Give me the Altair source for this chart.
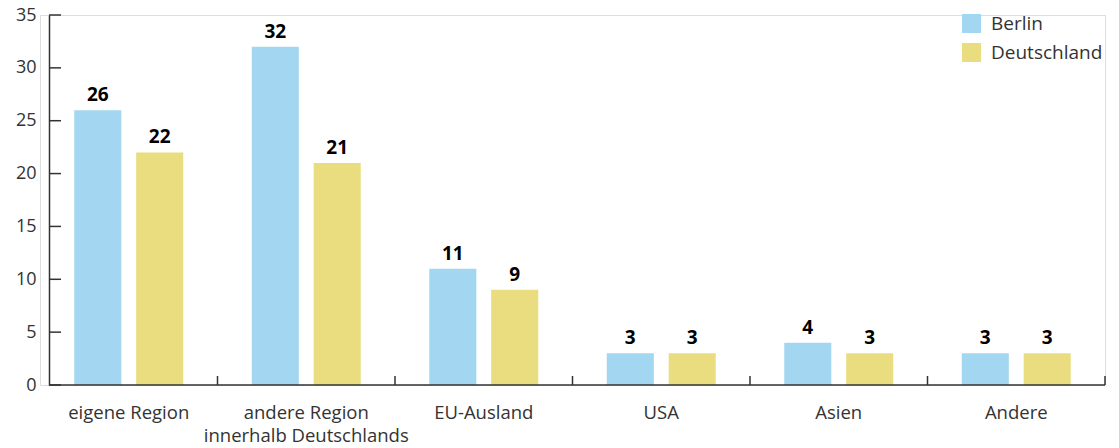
import altair as alt
import pandas as pd

categories = ["eigene Region", "andere Region innerhalb Deutschlands", "EU-Ausland", "USA", "Asien", "Andere"]
berlin = [26, 32, 11, 3, 4, 3]
deutschland = [22, 21, 9, 3, 3, 3]
series = ["Berlin", "Deutschland"]
y_ticks = [0, 5, 10, 15, 20, 25, 30, 35]
boundaries = [1, 2, 3, 4, 5, 6]

rows = []
for c, b, d in zip(categories, berlin, deutschland):
    rows.append({"Kategorie": c, "Serie": "Berlin", "Wert": b})
    rows.append({"Kategorie": c, "Serie": "Deutschland", "Wert": d})
df = pd.DataFrame(rows)

FONT = "Open Sans"
AXC = "#333333"
TXT = "#333333"

x_enc = alt.X("Kategorie:N", sort=categories,
              scale=alt.Scale(paddingInner=0.386, paddingOuter=0.193),
              axis=alt.Axis(title=None, domain=False, ticks=False, labelAngle=0,
                            labelFontSize=18.5, labelColor=TXT, labelFont=FONT,
                            labelPadding=18, labelLineHeight=23, labelLimit=0,
                            labelExpr="datum.value == 'andere Region innerhalb Deutschlands' ? ['andere Region', 'innerhalb Deutschlands'] : datum.value"))
y_enc = alt.Y("Wert:Q", scale=alt.Scale(domain=[0, 35], nice=False),
              axis=alt.Axis(title=None, values=y_ticks, grid=False, ticks=False,
                            domain=True, domainColor=AXC, domainWidth=1.5, offset=-9,
                            labelFontSize=18, labelColor=TXT, labelFont=FONT,
                            labelPadding=13))
xo = alt.XOffset("Serie:N", sort=series, scale=alt.Scale(paddingInner=0.24, paddingOuter=0))
color = alt.Color("Serie:N", sort=series,
                  scale=alt.Scale(domain=series, range=["#a3d6f0", "#e9dd80"]),
                  legend=alt.Legend(title=None, orient="none", legendX=922, legendY=-1,
                                    symbolType="square", symbolSize=361, symbolStrokeWidth=0,
                                    labelFontSize=19, labelFont=FONT, labelColor=TXT,
                                    rowPadding=9, labelOffset=10, padding=0, labelLimit=0))

base = alt.Chart(df)
bars = base.mark_bar().encode(x=x_enc, xOffset=xo, y=y_enc, color=color)
labels = base.mark_text(dy=-5, baseline="bottom", fontWeight="bold", fontSize=19,
                        font=FONT, color="black").encode(
    x=alt.X("Kategorie:N", sort=categories), xOffset=alt.XOffset("Serie:N", sort=series),
    y="Wert:Q", text="Wert:Q")

ytick_df = pd.DataFrame({"t": y_ticks})
yticks = alt.Chart(ytick_df).mark_rule(color=AXC, strokeWidth=1.5).encode(
    y="t:Q", x=alt.value(9), x2=alt.value(21))

baseline = alt.Chart(pd.DataFrame({"t": [0]})).mark_rule(color=AXC, strokeWidth=1.5).encode(
    y="t:Q", x=alt.value(9), x2=alt.value(1065))

main = alt.layer(bars, labels, yticks, baseline)

btick_df = pd.DataFrame({"b": boundaries})
xticks = alt.Chart(btick_df).mark_rule(color=AXC, strokeWidth=1.5).encode(
    x=alt.X("b:Q", scale=alt.Scale(domain=[0, 6], nice=False), axis=None),
    y=alt.value(361), y2=alt.value(370))

chart = alt.layer(main, xticks).resolve_scale(x="independent").properties(
    width=1065, height=370,
    autosize=alt.AutoSizeParams(type="none"),
    padding={"left": 40, "top": 15, "right": 14, "bottom": 63},
).configure_view(stroke=None).configure(background="white")

chart.save("out.html", embed_options={"renderer": "svg", "actions": False})
